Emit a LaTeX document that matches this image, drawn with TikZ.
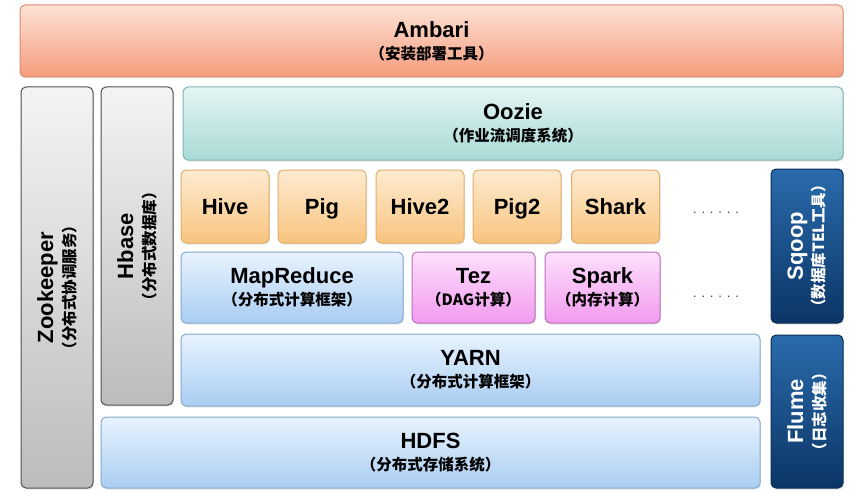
\documentclass[tikz,border=0pt]{standalone}
\usepackage{fontspec}
\setmainfont{Liberation Sans}
\newfontfamily\cjk{Noto Sans CJK SC}
\usetikzlibrary{shadows}

\definecolor{ambtop}{HTML}{FDE2D6}
\definecolor{ambbot}{HTML}{F59C7C}
\definecolor{ambline}{HTML}{D98B6E}
\definecolor{ooztop}{HTML}{E4F5F3}
\definecolor{oozbot}{HTML}{A8DAD6}
\definecolor{oozline}{HTML}{7DB5B2}
\definecolor{hivtop}{HTML}{FDEBD0}
\definecolor{hivbot}{HTML}{F8C47E}
\definecolor{hivline}{HTML}{E0AE6C}
\definecolor{blutop}{HTML}{E8F3FE}
\definecolor{blubot}{HTML}{A9CDF2}
\definecolor{bluline}{HTML}{86A8CC}
\definecolor{pnktop}{HTML}{FDE0FC}
\definecolor{pnkbot}{HTML}{F29AEF}
\definecolor{pnkline}{HTML}{B870B8}
\definecolor{grytop}{HTML}{F4F4F4}
\definecolor{grybot}{HTML}{BCBCBC}
\definecolor{gryline}{HTML}{505050}
\definecolor{dbltop}{HTML}{2A6BAC}
\definecolor{dblbot}{HTML}{0B3566}
\definecolor{dblline}{HTML}{0A2E58}

\newcommand\subt[1]{\\[-1pt]{\cjk\fontsize{15.5}{17}\selectfont （#1）}}

\begin{document}
\begin{tikzpicture}[x=1pt,y=-1pt,
	blk/.style={draw, rounded corners=5pt, line width=1pt, align=center, inner sep=0pt,
		drop shadow={opacity=0.2, shadow xshift=1pt, shadow yshift=-1.5pt},
		font=\bfseries\fontsize{22}{23}\selectfont},
	amb/.style={blk, draw=ambline, top color=ambtop, bottom color=ambbot},
	ooz/.style={blk, draw=oozline, top color=ooztop, bottom color=oozbot},
	hiv/.style={blk, draw=hivline, top color=hivtop, bottom color=hivbot, minimum width=88, minimum height=73,
		text height=15.5pt, text depth=0pt},
	blu/.style={blk, draw=bluline, top color=blutop, bottom color=blubot},
	pnk/.style={blk, draw=pnkline, top color=pnktop, bottom color=pnkbot},
	gry/.style={blk, draw=gryline, top color=grytop, bottom color=grybot, rotate=90},
	dbl/.style={blk, draw=dblline, top color=dbltop, bottom color=dblbot, rotate=90, text=white},
	dots/.style={font=\fontsize{13}{13}\selectfont, text=black!75}]
\useasboundingbox (0,0) rectangle (866,500);

\node[amb, minimum width=823, minimum height=72] (ambari) at (431.5,41) {Ambari\subt{安装部署工具}};
\node[gry, minimum width=401, minimum height=72] (zookeeper) at (57,287.5) {Zookeeper\subt{分布式协调服务}};
\node[gry, minimum width=318, minimum height=72] (hbase) at (137,246) {Hbase\subt{分布式数据库}};
\node[ooz, minimum width=660, minimum height=73] (oozie) at (513,123.5) {Oozie\subt{作业流调度系统}};

\node[hiv] (hive) at (225,206.5) {Hive};
\node[hiv] (pig) at (322,206.5) {Pig};
\node[hiv] (hive2) at (420,206.5) {Hive2};
\node[hiv] (pig2) at (517,206.5) {Pig2};
\node[hiv] (shark) at (615.5,206.5) {Shark};
\node[dots] (dots1) at (716,213) {. . . . . .};

\node[blu, minimum width=222, minimum height=71] (mapreduce) at (292,287.5) {MapReduce\subt{分布式计算框架}};
\node[pnk, minimum width=123, minimum height=71] (tez) at (473.5,287.5) {Tez\subt{DAG计算}};
\node[pnk, minimum width=115, minimum height=71] (spark) at (602.5,287.5) {Spark\subt{内存计算}};
\node[dots] (dots2) at (716,297) {. . . . . .};

\node[blu, minimum width=579, minimum height=72] (yarn) at (470.5,370) {YARN\subt{分布式计算框架}};
\node[blu, minimum width=659, minimum height=71] (hdfs) at (430.5,452.5) {HDFS\subt{分布式存储系统}};

\node[dbl, minimum width=154, minimum height=72] (sqoop) at (807,246) {Sqoop\subt{数据库TEL工具}};
\node[dbl, minimum width=153, minimum height=72] (flume) at (807,411.5) {Flume\subt{日志收集}};
\end{tikzpicture}
\end{document}
